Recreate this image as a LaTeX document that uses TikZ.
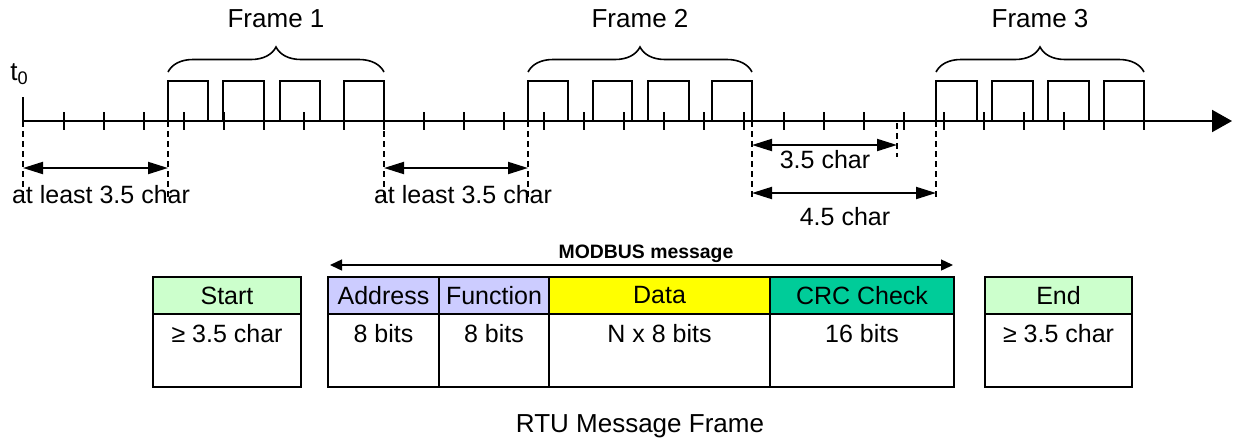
\documentclass[tikz,border=0pt]{standalone}
\usepackage{fontspec}
\setmainfont{Liberation Sans}
\usetikzlibrary{arrows.meta,decorations.pathreplacing}

\definecolor{startColor}{RGB}{204,255,204}
\definecolor{fieldColor}{RGB}{204,204,255}
\definecolor{dataColor}{RGB}{255,255,0}
\definecolor{crcColor}{RGB}{0,204,153}

\tikzset{
  timeline/.style={line width=1pt},
  boundary/.style={line width=1pt, dash pattern=on 3pt off 2pt},
  span/.style={line width=1pt, {Triangle[length=10pt,width=6pt]}-{Triangle[length=10pt,width=6pt]}},
  framebrace/.style={line width=0.8pt, decorate, decoration={brace, amplitude=12.5pt}},
  txt/.style={font=\fontsize{12.5}{15}\selectfont, inner sep=0pt, anchor=base},
  bigtxt/.style={txt, font=\fontsize{13}{15}\selectfont},
  headcell/.style={draw, line width=1pt, inner sep=0pt, outer sep=0pt, minimum height=18.5pt,
    anchor=north west, font=\fontsize{12.5}{15}\selectfont},
  bodycell/.style={draw, line width=1pt, inner sep=0pt, outer sep=0pt, minimum height=36.5pt,
    anchor=north west},
}

\begin{document}
\begin{tikzpicture}[x=0.5pt,y=-0.5pt]
  \useasboundingbox (0,0) rectangle (1235,440);
  % Time axis
  \coordinate (origin) at (23,121);
  \coordinate (axisEnd) at (1232,121);
  \draw[timeline, -{Triangle[length=10pt,width=11pt]}] (origin) -- (axisEnd);
  \draw[timeline] (23,97) -- (origin);
  \node[bigtxt, anchor=base west] (t0) at (10,80) {t\textsubscript{0}};
  \foreach \k in {1,...,28}
    \draw[timeline] ({23.5+40*\k},112) -- ({23.5+40*\k},130);
  % Frames
  \foreach \a/\b in {168/208,223/264,280/320,344/384,
                     528/568,593/632,648/689,712/752,
                     936/977,992/1033,1048/1089,1104/1144}
    \draw[timeline] (\a,121) -- (\a,81) -- (\b,81) -- (\b,121);
  \draw[framebrace] (168,72) -- (384,72);
  \draw[framebrace] (528,72) -- (752,72);
  \draw[framebrace] (936,72) -- (1144,72);
  \node[bigtxt] (frame1) at (276,27) {Frame 1};
  \node[bigtxt] (frame2) at (640,27) {Frame 2};
  \node[bigtxt] (frame3) at (1040,27) {Frame 3};
  % Silent intervals
  \foreach \name/\x/\y in {b0/23/197,b1/168/197,b2/384/197,b3/528/197,b4/752/200,b6/936/200}{
    \coordinate (\name) at (\x,121);
    \coordinate (\name low) at (\x,\y);
    \draw[boundary] (\name) -- (\name low);
  }
  \coordinate (b5) at (897,123);
  \coordinate (b5 low) at (897,157);
  \draw[boundary] (b5) -- (b5 low);
  \draw[span] (b0 |- 0,168) -- (b1 |- 0,168);
  \draw[span] (b2 |- 0,168) -- (b3 |- 0,168);
  \draw[span] (b4 |- 0,145) -- (b5 |- 0,145);
  \draw[span] (b4 |- 0,193) -- (b6 |- 0,193);
  \node[txt] (gap1) at (101,203) {at least 3.5 char};
  \node[txt] (gap2) at (463,203) {at least 3.5 char};
  \node[txt] (char35) at (825,168) {3.5 char};
  \node[txt] (char45) at (845,225) {4.5 char};
  % MODBUS message
  \node[txt, font=\bfseries\fontsize{9.7}{12}\selectfont] (msg) at (646,258) {MODBUS message};
  \coordinate (msgL) at (330,265);
  \coordinate (msgR) at (953,265);
  \draw[line width=0.7pt, {Triangle[length=6pt,width=5.5pt]}-{Triangle[length=6pt,width=5.5pt]}] (msgL) -- (msgR);
  % Frame fields
  \node[headcell, fill=startColor, minimum width=74pt] (start) at (153,277) {Start};
  \node[bodycell, minimum width=74pt] (startBody) at (start.south west) {};
  \node[headcell, fill=fieldColor, minimum width=55.5pt] (address) at (328,277) {Address};
  \node[bodycell, minimum width=55.5pt] (addressBody) at (address.south west) {};
  \node[headcell, fill=fieldColor, minimum width=55pt] (function) at (439,277) {Function};
  \node[bodycell, minimum width=55pt] (functionBody) at (function.south west) {};
  \node[headcell, fill=dataColor, minimum width=110.5pt] (data) at (549,277) {Data};
  \node[bodycell, minimum width=110.5pt] (dataBody) at (data.south west) {};
  \node[headcell, fill=crcColor, minimum width=92pt] (crc) at (770,277) {CRC Check};
  \node[bodycell, minimum width=92pt] (crcBody) at (crc.south west) {};
  \node[headcell, fill=startColor, minimum width=73.5pt] (end) at (985,277) {End};
  \node[bodycell, minimum width=73.5pt] (endBody) at (end.south west) {};
  \node[txt] (startLen) at (227,342) {≥ 3.5 char};
  \node[txt] (addressLen) at (383.5,342) {8 bits};
  \node[txt] (functionLen) at (494,342) {8 bits};
  \node[txt] (dataLen) at (659.5,342) {N x 8 bits};
  \node[txt] (crcLen) at (862,342) {16 bits};
  \node[txt] (endLen) at (1058.5,342) {≥ 3.5 char};
  \node[bigtxt] (caption) at (640,432) {RTU Message Frame};
\end{tikzpicture}
\end{document}
